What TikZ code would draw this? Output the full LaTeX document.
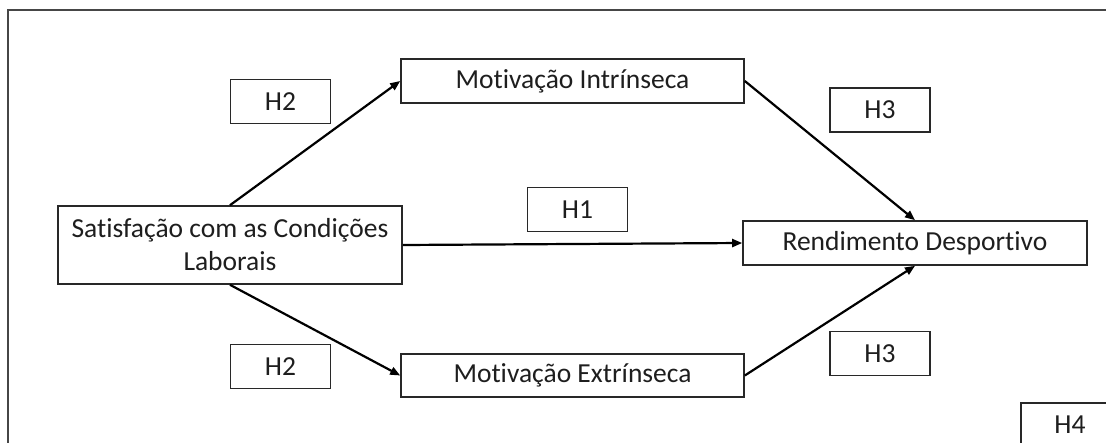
\documentclass[tikz,border=0pt]{standalone}
\usepackage{fontspec}
\setmainfont{Carlito}[Ligatures=NoCommon]
\usetikzlibrary{arrows.meta}
\definecolor{txt}{RGB}{30,30,30}
\definecolor{frm}{RGB}{70,70,70}
\definecolor{bx}{RGB}{40,40,40}
\begin{document}
\begin{tikzpicture}[x=1pt,y=-1pt,
  box/.style={draw=bx,line width=1.6pt,inner sep=0pt,text=txt,align=center,
    font=\fontsize{27.5}{33}\selectfont},
  hbox/.style={box,minimum width=100pt,minimum height=44pt},
  conn/.style={line width=2.2pt,draw=black,-{Triangle[length=10pt,width=8pt]}}]
\clip (0,0) rectangle (1106,442);
\fill[white] (0,0) rectangle (1106,442);
\draw[frm,line width=1.6pt] (8,470) -- (8,10) -- (1130,10);
\node[box,minimum width=344pt,minimum height=78pt] (sat) at (230,245) {Satisfação com as Condições\\Laborais};
\node[box,minimum width=343pt,minimum height=44pt] (mi) at (572.5,81) {Motivação Intrínseca};
\node[box,minimum width=343pt,minimum height=43pt] (me) at (572.5,375.5) {Motivação Extrínseca};
\node[box,minimum width=344pt,minimum height=44pt] (rd) at (915,243) {Rendimento Desportivo};
\node[hbox] (h2a) at (280.5,101.5) {H2};
\node[hbox] (h3a) at (880,110) {H3};
\node[hbox] (h1) at (577.5,209.5) {H1};
\node[hbox] (h2b) at (280.5,366.5) {H2};
\node[hbox] (h3b) at (880,353.5) {H3};
\node[hbox,minimum width=98pt,minimum height=43pt] (h4) at (1070,424.5) {H4};
\draw[conn] (sat.north) -- (mi.west);
\draw[conn] (sat.south) -- (me.west);
\draw[conn] (sat.east) -- (rd.west);
\draw[conn] (mi.east) -- (rd.north);
\draw[conn] (me.east) -- (rd.south);
\end{tikzpicture}
\end{document}
